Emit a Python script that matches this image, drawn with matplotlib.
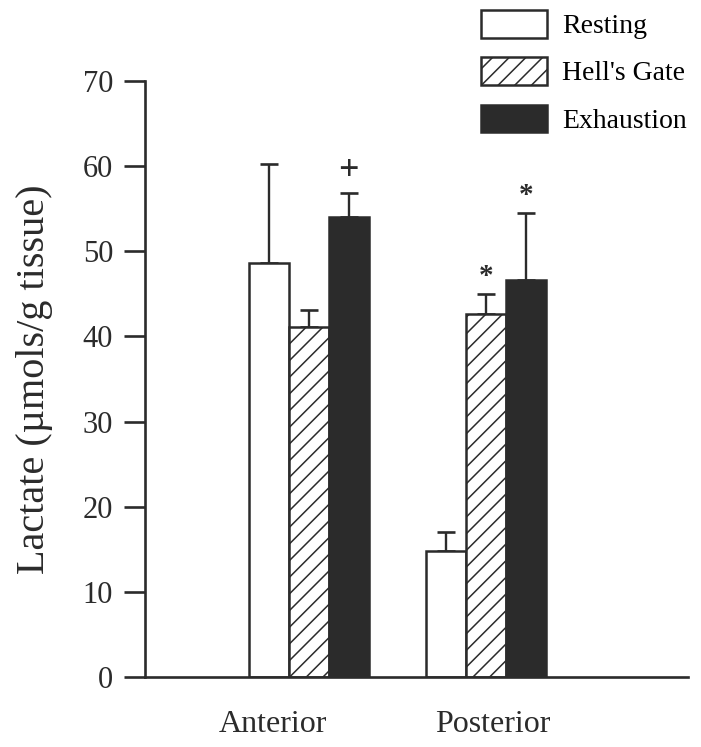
import matplotlib
matplotlib.use("Agg")
import matplotlib.pyplot as plt
import numpy as np

# Valores
grupos = ["Anterior", "Posterior"]
series = ["Resting", "Hell's Gate", "Exhaustion"]
resting = [48.6, 14.8]
hells_gate = [41.1, 42.6]
exhaustion = [54.0, 46.6]
err_resting = [11.6, 2.2]
err_hells = [2.0, 2.4]
err_exhaustion = [2.8, 7.9]
# marcas de significación: (grupo, serie, símbolo)
marcas = [(0, 2, "+"), (1, 1, "*"), (1, 2, "*")]

plt.rcParams['font.family'] = ['Liberation Serif', 'DejaVu Serif']

fig = plt.figure(figsize=(7.01, 7.47), dpi=100)
ax = fig.add_axes([145 / 701, 1 - 677 / 747, 543 / 701, (677 - 81) / 747])

centros = np.array([4.1, 8.55])
ancho = 1.0
valores = [resting, hells_gate, exhaustion]
errores = [err_resting, err_hells, err_exhaustion]
estilos = [
    dict(color="white", hatch=None),
    dict(color="white", hatch="//"),
    dict(color="#2b2b2b", hatch=None),
]
oscuro = "#2b2b2b"
plt.rcParams['hatch.linewidth'] = 1.1
plt.rcParams['hatch.color'] = oscuro

for i, (vals, errs, est) in enumerate(zip(valores, errores, estilos)):
    xs = centros + (i - 1) * ancho
    ax.errorbar(xs, vals, yerr=[np.zeros(len(vals)), errs], fmt="none",
                ecolor=oscuro, elinewidth=1.7, capsize=6.5, capthick=1.9, zorder=1)
    ax.bar(xs, vals, width=ancho, facecolor=est["color"], hatch=est["hatch"],
           edgecolor=oscuro, linewidth=1.8, label=series[i], zorder=2)

for g, s, simbolo in marcas:
    x = centros[g] + (s - 1) * ancho
    y = valores[s][g] + errores[s][g]
    if simbolo == "+":
        ax.text(x, y + 2.6, simbolo, ha="center", va="center", fontsize=26,
                fontweight="bold", color=oscuro)
    else:
        ax.text(x, y + 2.0, simbolo, ha="center", va="center", fontsize=21,
                fontweight="bold", color=oscuro)

ax.set_xlim(0, 13.6)
ax.set_ylim(0, 70)
ax.set_yticks(range(0, 71, 10))
ax.tick_params(axis="y", direction="out", length=15, width=1.9, pad=8,
               labelsize=22, colors=oscuro)
ax.set_xticks([])
for x, nombre in zip([3.2, 8.7], grupos):
    ax.text(x, -6.45, nombre, ha="center", va="baseline", fontsize=23, color=oscuro)

for lado in ["top", "right"]:
    ax.spines[lado].set_visible(False)
for lado in ["left", "bottom"]:
    ax.spines[lado].set_linewidth(1.9)
    ax.spines[lado].set_color(oscuro)

ax.set_ylabel("Lactate (\u00b5mols/g tissue)", fontsize=29, color=oscuro)
ax.yaxis.set_label_coords(-0.17, 0.5)

fs = 20
px = fs * 100 / 72
ax.legend(loc="upper left", bbox_to_anchor=(481 / 701, 1 - 10 / 747),
          bbox_transform=fig.transFigure, frameon=False, fontsize=fs,
          handlelength=66 / px, handleheight=32 / px, labelspacing=0.65,
          handletextpad=0.55, borderpad=0, borderaxespad=0)

fig.savefig("out.png", dpi=100)
